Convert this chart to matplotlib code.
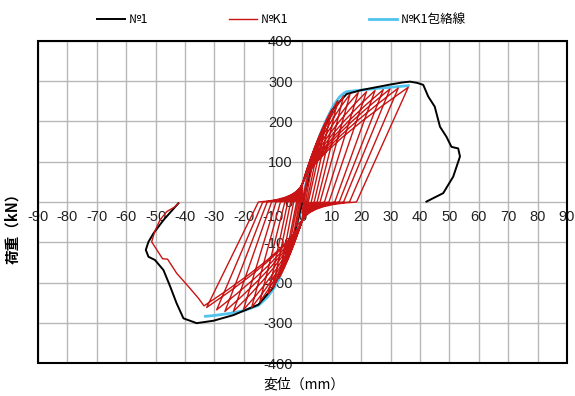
import numpy as np
import matplotlib
matplotlib.use("Agg")
from matplotlib import pyplot as plt
from matplotlib.patches import Rectangle

plt.rcParams['font.family'] = ['Liberation Sans', 'Noto Sans CJK JP', 'DejaVu Sans']
plt.rcParams['axes.unicode_minus'] = False

# No1 curve (black)
no1_x = [-42.2, -47.3, -50.7, -52.4, -53.3, -52.4, -50.2, -47.3, -45.0, -42.8, -40.5, -36.0, -30.3,
         -23.5, -15.0, -10.0, -6.0, -2.0, 0.0, 2.0, 6.0, 10.5, 15.0, 20.0, 25.0, 30.0, 34.0, 36.6,
         39.0, 41.1, 42.8, 45.0, 46.8, 49.0, 50.7, 53.0, 53.6, 51.3, 47.9, 42.2]
no1_y = [-3, -45, -78, -99, -119, -136, -144, -169, -210, -252, -289, -301, -295,
         -281, -255, -213, -150, -58, 0, 55, 160, 232, 268, 278, 285, 292, 297, 299,
         296, 291, 262, 237, 187, 162, 137, 133, 113, 63, 22, 1]

# NoK1 envelope (blue)
env_x = [-33, -30, -25, -20, -15, -12, -10, -8, -6, -4, -2, 0,
         1.5, 3.5, 6, 8, 10.5, 12.5, 14, 15, 20, 25, 30, 36]
env_y = [-284, -282, -277, -270, -257, -237, -217, -192, -152, -112, -62, 0,
         57, 112, 167, 202, 239, 260, 270, 274, 278, 282, 285, 289]

# NoK1 cycles (red): peaks, residual displacements and bend points
pos_x = [2, 4, 6, 8, 10, 12, 14, 16.2, 19, 21.8, 24.7, 27.5, 29.8, 32.6, 36]
pos_y = [66, 120, 160, 196, 230, 252, 264, 268, 272, 274, 277, 279, 281, 283, 285]
pos_res = [0.5, 1, 1.5, 2, 3, 4, 5, 6, 7.5, 9, 11, 12.5, 14, 16, 18.4]
pos_bx = [1.2, 2.2, 3.2, 4.2, 5, 5.5, 5.5, 5.3, 5, 4.8, 4.5, 4.3, 4, 3.9, 3.7]
pos_by = [55, 92, 122, 148, 165, 172, 170, 165, 158, 150, 142, 136, 130, 125, 121]

neg_x = [-2, -3.5, -5, -6.5, -8, -10, -11.6, -14.5, -17.3, -20.1, -23.5, -26.4, -29.2, -32.6, -33.5]
neg_y = [-60, -100, -130, -165, -190, -212, -228, -248, -262, -268, -272, -272, -268, -262, -258]
neg_res = [-0.5, -1, -1.5, -2, -3, -4, -5, -6, -7.5, -9, -10.5, -12, -13.5, -15, -16.7]
neg_bx = [-1.2, -2.2, -3.2, -4.2, -5, -5.5, -5.5, -5.3, -5, -4.8, -4.5, -4.3, -4, -3.9, -3.7]
neg_by = [-52, -85, -110, -135, -152, -158, -158, -155, -150, -145, -137, -131, -125, -120, -115]

# last excursion of NoK1 after final negative peak
tail_x = [-35.4, -38.8, -42.8, -45.9, -47.6, -51.3, -50.2, -48.5, -46.2, -43.4, -42.2]
tail_y = [-239, -210, -177, -142, -141, -99, -72, -45, -24, -12, -3]

pinch_pos = 46
pinch_neg = -45

xticks = list(range(-90, 91, 10))
yticks = list(range(-400, 401, 100))


def smooth(p0, p1, p2, n=8):
    # quadratic bezier through control point p1
    t = np.linspace(0, 1, n)[1:]
    xs = (1 - t) ** 2 * p0[0] + 2 * (1 - t) * t * p1[0] + t ** 2 * p2[0]
    ys = (1 - t) ** 2 * p0[1] + 2 * (1 - t) * t * p1[1] + t ** 2 * p2[1]
    return list(xs), list(ys)


# build red path
rx, ry = [0.0], [0.0]
for i in range(len(pos_x)):
    # reload up to positive peak
    sx, sy = smooth((rx[-1], ry[-1]), (pos_bx[i], pos_by[i]), (pos_x[i], pos_y[i]))
    rx += sx
    ry += sy
    # unload
    rx += [pos_res[i]]
    ry += [0]
    # pinched low branch toward negative side
    sx, sy = smooth((pos_res[i], 0), (pos_res[i] * 0.15, -6), (0, pinch_neg))
    rx += sx
    ry += sy
    sx, sy = smooth((0, pinch_neg), (neg_bx[i], neg_by[i]), (neg_x[i], neg_y[i]))
    rx += sx
    ry += sy
    if i < len(pos_x) - 1:
        rx += [neg_res[i]]
        ry += [0]
        sx, sy = smooth((neg_res[i], 0), (neg_res[i] * 0.15, 6), (0, pinch_pos))
        rx += sx
        ry += sy
rx += tail_x
ry += tail_y

fig = plt.figure(figsize=(5.75, 3.96), dpi=100)
ax = fig.add_axes([0.066, 0.0833, 0.92, 0.8132])

l1, = ax.plot(no1_x, no1_y, color='black', lw=1.4, zorder=3, label='№1')
l3, = ax.plot(env_x, env_y, color='#4fc3ee', lw=2.0, zorder=2, label='№K1包絡線')
l2, = ax.plot(rx, ry, color='#c81414', lw=1.0, zorder=4, label='№K1')

ax.set_xlim(-90, 90)
ax.set_ylim(-400, 400)
ax.set_xticks(xticks)
ax.set_yticks(yticks)
ax.grid(True, color='#b8b8b8', lw=1.0, zorder=0)
ax.set_axisbelow(True)

for s in ['top', 'right']:
    ax.spines[s].set_visible(False)
ax.spines['left'].set_position(('data', 0))
ax.spines['bottom'].set_position(('data', 0))
ax.spines['left'].set_visible(False)
ax.spines['bottom'].set_visible(False)
ax.tick_params(length=0, labelsize=10.5, colors='#222222')
ax.tick_params(axis='y', pad=7)
ax.tick_params(axis='x', pad=6)
ax.add_patch(Rectangle((0, 0), 1, 1, transform=ax.transAxes, fill=False,
                       edgecolor='black', lw=1.5, zorder=5, clip_on=False))

fig.text(0.021, 0.432, '荷重（kN）', rotation=90, ha='center', va='center',
         fontsize=10.5, fontweight='bold', family=['Noto Sans CJK JP'])
fig.text(0.529, 0.03, '変位（mm）', ha='center', va='center', fontsize=10,
         family=['Noto Sans CJK JP'])

ax.legend(handles=[l1, l2, l3], ncol=3, loc='lower center', bbox_to_anchor=(0.46, 1.03),
          frameon=False, prop={'family': ['Noto Sans CJK JP'], 'size': 9},
          handlelength=2.2, columnspacing=6.5, handletextpad=0.3, borderaxespad=0)

fig.savefig('out.png', dpi=100)
